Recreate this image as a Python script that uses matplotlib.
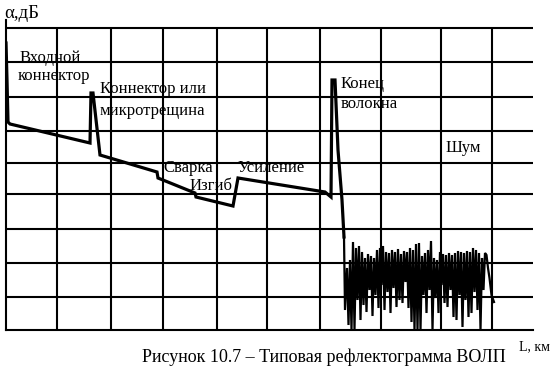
import matplotlib
matplotlib.use("Agg")
import matplotlib.pyplot as plt

plt.rcParams['font.family'] = ['Liberation Serif', 'DejaVu Serif']

# reflectogram trace (distance units, attenuation units)
trace_x = [0, 1, 2, 4, 84, 85, 87, 94, 151, 152, 189, 190, 227, 232,
           319, 325, 326, 329, 332, 336, 338]
trace_y = [287, 250, 208, 206, 187, 237, 237, 175, 158, 152, 137, 133,
           124, 152, 138, 133, 250, 250, 180, 130, 93]

# noise after the fibre end
noise_x = [338, 339, 341, 342.5, 344, 345.5, 347, 348.5, 350, 351.5, 353,
           354.5, 356, 357.5, 359, 360.5, 362, 363.5, 365, 366.5, 368,
           369.5, 371, 372.5, 374, 375.5, 377, 378.5, 380, 381.5, 383,
           384.5, 386, 387.5, 389, 390.5, 392, 393.5, 395, 396.5, 398,
           399.5, 401, 402.5, 404, 405.5, 407, 408.5, 410, 411.5, 413,
           414.5, 416, 417.5, 419, 420.5, 422, 423.5, 425, 426.5, 428,
           429.5, 431, 432.5, 434, 435.5, 437, 438.5, 440, 441.5, 443,
           444.5, 446, 447.5, 449, 450.5, 452, 453.5, 455, 456.5, 458,
           459.5, 461, 462.5, 464, 465.5, 467, 468.5, 470, 471.5, 473,
           474.5, 476, 477.5, 479, 480.5, 482, 483.5, 485.5, 488]
noise_y = [93, 20, 62, 5, 70, 0, 88, 0, 82, 30, 84,
           10, 78, 25, 72, 18, 76, 40, 74, 14, 72,
           35, 80, 22, 82, 45, 84, 20, 78, 38, 77,
           17, 80, 42, 78, 23, 81, 30, 76, 27, 79,
           48, 78, 22, 82, 8, 80, 0, 86, 0, 87,
           0, 74, 35, 77, 17, 80, 40, 89, 0, 72,
           32, 70, 17, 78, 45, 76, 27, 75, 23, 77,
           40, 75, 13, 77, 10, 79, 35, 78, 3, 77,
           30, 79, 13, 78, 17, 82, 38, 80, 20, 77,
           0, 72, 40, 77, 75, 62, 52, 35, 28]

grid_x = [51, 105, 157, 211, 261, 314, 375, 435, 486]
grid_y = [33, 67, 101, 136, 167, 199, 233, 268, 302]

labels = [
    (14, 268, "Входной"),
    (12, 250, "коннектор"),
    (94, 237, "Коннектор или"),
    (94, 215, "микротрещина"),
    (157, 158, "Сварка"),
    (184, 140, "Изгиб"),
    (232, 158, "Усиление"),
    (335, 242, "Конец"),
    (335, 222, "волокна"),
    (440, 178, "Шум"),
]

fig = plt.figure(figsize=(5.58, 3.86), dpi=100)
ax = fig.add_axes([6 / 558, 56 / 386, 527 / 558, 310 / 386])
ax.set_xlim(0, 527)
ax.set_ylim(0, 310)
for s in ['top', 'right']:
    ax.spines[s].set_visible(False)
ax.spines['left'].set_linewidth(1.5)
ax.spines['bottom'].set_linewidth(1.5)
ax.set_xticks([])
ax.set_yticks([])

ax.vlines(grid_x, 0, max(grid_y), color='black', lw=1.5)
ax.hlines(grid_y, 0, 527, color='black', lw=1.5)

ax.plot(trace_x, trace_y, color='black', lw=2.3, solid_joinstyle='miter')
ax.plot(noise_x, noise_y, color='black', lw=1.6, solid_joinstyle='miter')

for x, y, t in labels:
    ax.text(x, y, t, fontsize=12, ha='left', va='baseline')

fig.text(4 / 558, 1 - 18 / 386, "α,дБ", fontsize=13.5, va='baseline')
fig.text(519 / 558, 1 - 350 / 386, "L, км", fontsize=10, va='baseline')
fig.text(324 / 558, 1 - 362 / 386, "Рисунок 10.7 – Типовая рефлектограмма ВОЛП",
         fontsize=13, ha='center', va='baseline')

fig.savefig("out.png", dpi=100)
